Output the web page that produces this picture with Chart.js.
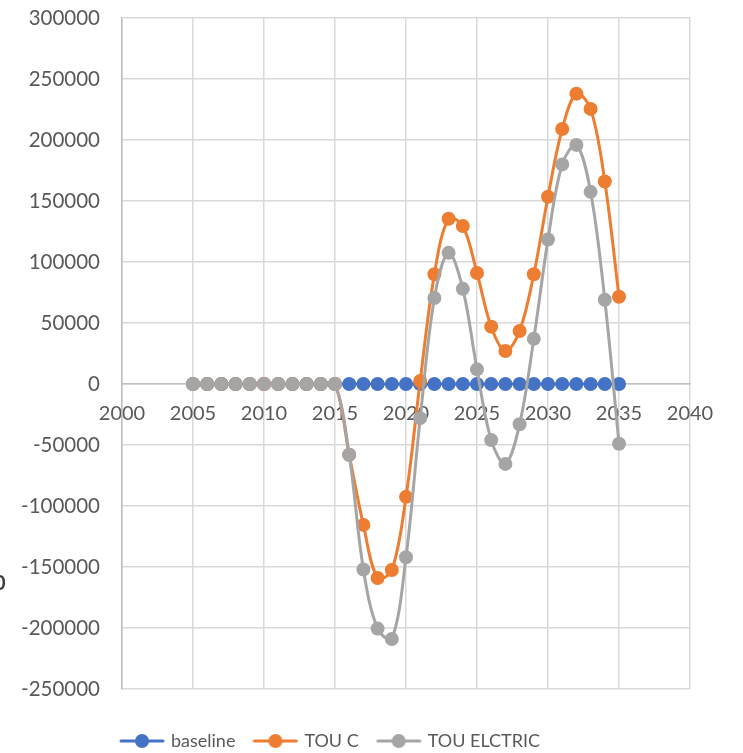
<!DOCTYPE html>
<html>
<head>
<meta charset="utf-8">
<script src="https://cdn.jsdelivr.net/npm/chart.js@4/dist/chart.umd.min.js"></script>
<style>
  html, body { margin: 0; padding: 0; background: #fff; }
  #wrap { width: 743px; height: 753px; }
</style>
</head>
<body>
<div id="wrap"><canvas id="tou"></canvas></div>
<script>
const years = [2005, 2006, 2007, 2008, 2009, 2010, 2011, 2012, 2013, 2014, 2015,
  2016, 2017, 2018, 2019, 2020, 2021, 2022, 2023, 2024, 2025,
  2026, 2027, 2028, 2029, 2030, 2031, 2032, 2033, 2034, 2035];

const baseline = [0, 0, 0, 0, 0, 0, 0, 0, 0, 0, 0,
  0, 0, 0, 0, 0, 0, 0, 0, 0, 0,
  0, 0, 0, 0, 0, 0, 0, 0, 0, 0];

const touC = [0, 0, 0, 0, 0, 0, 0, 0, 0, 0, 0,
  -58000, -115500, -159000, -152500, -92500, 2500, 90000, 135500, 129500, 91000,
  47000, 27000, 43500, 90000, 153500, 209000, 238000, 225500, 166000, 71500];

const touElectric = [0, 0, 0, 0, 0, 0, 0, 0, 0, 0, 0,
  -58000, -152000, -200500, -209000, -142000, -28000, 70500, 107500, 78000, 12000,
  -46000, -65500, -33000, 37000, 118500, 180000, 196000, 157500, 69000, -49000];

const seriesNames = ["baseline", "TOU C", "TOU ELCTRIC"];
const seriesColors = ["#4472C4", "#ED7D31", "#A5A5A5"];

const xTicks = [2000, 2005, 2010, 2015, 2020, 2025, 2030, 2035, 2040];
const yTicks = [-250000, -200000, -150000, -100000, -50000, 0, 50000, 100000, 150000, 200000, 250000, 300000];

const FONT = "Lato, 'Liberation Sans', sans-serif";

function pairUp(vals) {
    return years.map((yr, i) => ({ x: yr, y: vals[i] }));
}

// little line+marker swatch for the legend, like Excel's
function swatch(color) {
    const c = document.createElement("canvas");
    c.width = 46;
    c.height = 16;
    const g = c.getContext("2d");
    g.strokeStyle = color;
    g.lineWidth = 3;
    g.lineCap = "round";
    g.beginPath();
    g.moveTo(2, 8);
    g.lineTo(44, 8);
    g.stroke();
    g.fillStyle = color;
    g.beginPath();
    g.arc(23, 8, 7, 0, Math.PI * 2);
    g.fill();
    return c;
}
const swatches = seriesColors.map(swatch);

const mkSet = (idx, vals) => ({
    label: seriesNames[idx],
    data: pairUp(vals),
    borderColor: seriesColors[idx],
    backgroundColor: seriesColors[idx],
    borderWidth: 3,
    pointRadius: 7,
    pointBorderWidth: 0,
    pointHoverRadius: 7,
    tension: 0.35,
    showLine: true,
    order: 3 - idx,   // grey on top, blue underneath
});

// the excel legend sits left of centre
const legendShift = {
    id: "legendShift",
    afterLayout(chart) {
        const lg = chart.legend;
        if (!lg) return;
        lg.left -= 14;
        lg.right -= 14;
    }
};

const cutLabel = {
    id: "cutLabel",
    afterDraw(chart) {
        const ctx = chart.ctx;
        ctx.save();
        ctx.fillStyle = "#404040";
        ctx.font = "bold 20px " + FONT;
        ctx.textBaseline = "middle";
        ctx.fillText("0", -6, 584);
        ctx.restore();
    }
};

const gridColor = "#D9D9D9";

new Chart(document.getElementById("tou").getContext("2d"), {
    type: "scatter",
    data: {
        datasets: [mkSet(0, baseline), mkSet(1, touC), mkSet(2, touElectric)],
    },
    options: {
        responsive: true,
        maintainAspectRatio: false,
        animation: false,
        layout: {
            padding: { top: 0, right: 53, left: 0, bottom: -7 },
        },
        scales: {
            x: {
                type: "linear",
                position: { y: 0 },
                min: 2000,
                max: 2040,
                afterBuildTicks: (axis) => { axis.ticks = xTicks.map(v => ({ value: v })); },
                grid: { color: gridColor, lineWidth: 1.5, drawTicks: false },
                border: { color: "#BFBFBF", width: 1.5 },
                ticks: {
                    color: "#595959",
                    padding: 18,
                    font: { family: FONT, size: 20 },
                    callback: (v) => String(v),
                },
            },
            y: {
                min: -250000,
                max: 300000,
                afterBuildTicks: (axis) => { axis.ticks = yTicks.map(v => ({ value: v })); },
                afterFit: (axis) => {
                    axis.width = 122;
                    axis.paddingTop = 18;
                    axis.paddingBottom = 0;
                },
                grid: { color: gridColor, lineWidth: 1.5, drawTicks: false },
                border: { color: "#BFBFBF", width: 1.5 },
                ticks: {
                    color: "#595959",
                    padding: 22,
                    font: { family: FONT, size: 20.5 },
                    callback: (v) => String(v),
                },
            },
        },
        plugins: {
            tooltip: { enabled: false },
            legend: {
                position: "bottom",
                title: { display: true, text: "", font: { size: 10 }, padding: { top: 11, bottom: 0 } },
                labels: {
                    color: "#595959",
                    font: { family: FONT, size: 18 },
                    usePointStyle: true,
                    pointStyleWidth: 40,
                    padding: 20,
                    generateLabels: (chart) => {
                        const items = Chart.defaults.plugins.legend.labels.generateLabels(chart);
                        items.forEach((it) => { it.pointStyle = swatches[it.datasetIndex]; });
                        return items.sort((a, b) => a.datasetIndex - b.datasetIndex);
                    },
                },
            },
        },
    },
    plugins: [legendShift, cutLabel],
});
</script>
</body>
</html>
